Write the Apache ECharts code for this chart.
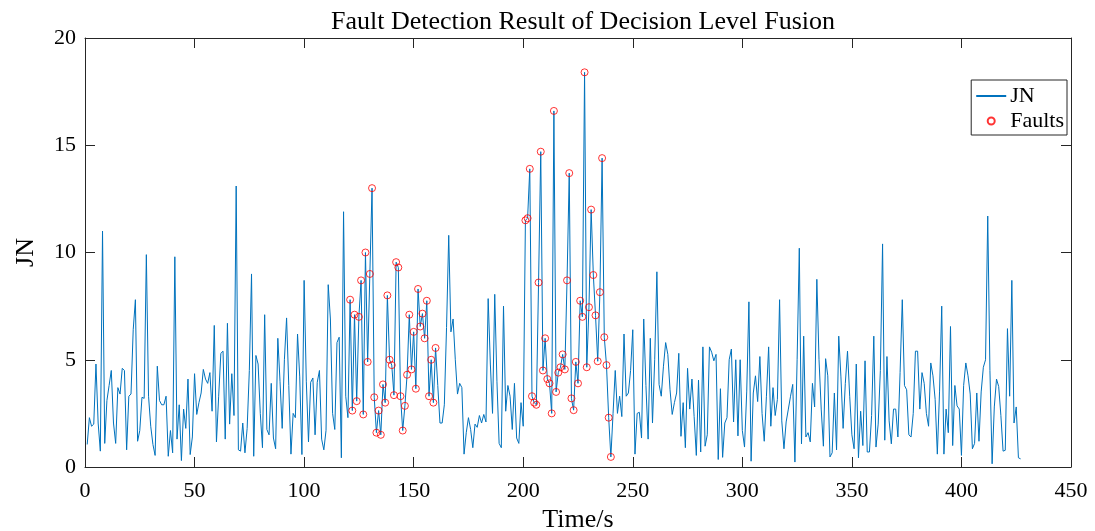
<!DOCTYPE html>
<html>
<head>
<meta charset="utf-8">
<script src="https://cdn.jsdelivr.net/npm/echarts@6/dist/echarts.min.js"></script>
<style>
  html, body { margin: 0; padding: 0; background: #fff; }
  #chart { width: 1095px; height: 531px; }
</style>
</head>
<body>
<div id="chart"></div>
<script>
// JN statistic sampled once per second, t = 1 .. 427
const jnValues = [
  1.05, 2.3, 1.9, 2.0, 4.8, 2.05, 0.74, 11.0, 1.1, 3.1,
  3.8, 4.5, 2.05, 1.1, 3.7, 3.4, 4.6, 4.5, 0.8, 3.3,
  3.4, 6.4, 7.8, 1.2, 1.7, 3.25, 3.2, 9.9, 3.3, 1.9,
  1.05, 0.54, 4.7, 3.1, 2.9, 2.9, 3.3, 0.5, 1.7, 0.66,
  9.8, 1.3, 2.9, 0.3, 2.7, 1.8, 4.1, 0.58, 1.4, 4.35,
  2.45, 3.0, 3.45, 4.55, 4.1, 3.9, 4.4, 2.6, 6.6, 1.17,
  3.3, 5.3, 5.4, 1.3, 6.7, 2.0, 4.35, 2.4, 13.1, 0.8,
  0.74, 2.05, 0.66, 1.8, 4.5, 9.0, 0.5, 5.2, 4.8, 2.5,
  0.9, 7.1, 1.75, 1.5, 3.9, 1.35, 0.85, 6.0, 4.0, 1.8,
  5.0, 6.95, 3.8, 0.6, 2.5, 2.3, 6.2, 4.2, 0.58, 8.7,
  4.0, 1.17, 3.95, 4.15, 1.5, 3.95, 4.5, 1.3, 0.8, 1.7,
  8.5, 6.9, 2.5, 1.75, 5.8, 6.05, 0.43, 11.9, 3.3, 2.3,
  7.8, 2.63, 7.1, 3.07, 7.0, 8.7, 2.45, 10.0, 4.9, 9.0,
  13.0, 3.25, 1.6, 2.63, 1.5, 3.85, 3.0, 8.0, 5.0, 4.75,
  3.35, 9.55, 9.3, 3.3, 1.7, 2.85, 4.3, 7.1, 4.55, 6.3,
  3.65, 8.3, 6.55, 7.15, 6.0, 7.75, 3.3, 5.0, 3.0, 5.55,
  3.8, 2.05, 2.05, 2.9, 6.5, 10.8, 6.3, 6.9, 5.0, 3.4,
  3.9, 3.7, 0.6, 1.6, 2.3, 1.75, 0.9, 2.0, 1.85, 2.4,
  2.05, 2.45, 2.1, 7.85, 4.8, 2.5, 8.05, 4.0, 1.1, 0.9,
  7.5, 2.6, 3.8, 3.3, 1.75, 3.9, 1.35, 1.1, 3.0, 1.9,
  11.5, 11.6, 13.9, 3.3, 3.0, 2.9, 8.6, 14.7, 4.5, 6.0,
  4.1, 3.9, 2.5, 16.6, 3.5, 4.4, 4.65, 5.25, 4.55, 8.7,
  13.7, 3.2, 2.65, 4.9, 3.9, 7.75, 7.0, 18.4, 4.65, 7.45,
  12.0, 8.95, 7.07, 4.93, 8.15, 14.4, 6.05, 4.75, 2.3, 0.47,
  2.5, 4.5, 2.5, 3.3, 2.35, 6.2, 3.3, 3.45, 4.5, 6.4,
  0.6, 2.5, 2.55, 1.35, 6.9, 3.8, 1.3, 6.0, 2.05, 5.0,
  9.1, 3.85, 3.3, 4.7, 5.8, 5.25, 3.6, 2.45, 3.0, 3.45,
  5.3, 1.43, 3.0, 0.9, 4.6, 2.7, 4.1, 2.35, 0.54, 4.05,
  0.7, 5.6, 0.97, 1.5, 5.6, 5.35, 4.95, 5.25, 0.35, 3.65,
  0.45, 2.05, 2.3, 5.0, 5.5, 2.1, 5.0, 1.45, 5.0, 1.7,
  0.93, 3.5, 7.7, 0.27, 3.45, 4.25, 3.05, 5.15, 2.5, 1.2,
  3.3, 5.6, 1.9, 3.7, 2.4, 3.15, 7.8, 2.15, 0.85, 2.1,
  2.7, 3.3, 3.85, 0.23, 5.0, 10.2, 1.08, 6.1, 1.4, 1.6,
  1.17, 3.9, 2.8, 8.75, 5.0, 2.7, 0.97, 5.05, 4.25, 0.47,
  0.66, 3.45, 0.8, 6.1, 4.2, 1.8, 3.9, 5.4, 3.3, 1.5,
  0.85, 4.8, 0.43, 2.6, 1.0, 4.95, 0.7, 0.7, 2.4, 6.1,
  0.93, 2.0, 4.5, 10.4, 1.25, 5.15, 2.15, 1.08, 2.7, 2.7,
  1.4, 4.4, 7.8, 3.8, 3.6, 1.5, 1.4, 2.5, 5.4, 5.4,
  2.7, 4.4, 3.9, 2.5, 1.9, 4.85, 4.25, 3.15, 0.6, 3.5,
  7.5, 0.6, 2.7, 1.6, 6.55, 1.0, 3.8, 2.85, 2.7, 0.54,
  3.8, 4.85, 4.25, 3.4, 0.85, 1.1, 3.45, 1.2, 3.5, 4.65,
  5.0, 11.7, 4.5, 0.15, 2.8, 4.1, 3.75, 2.4, 0.74, 0.78,
  6.45, 3.3, 8.7, 2.05, 2.8, 0.43, 0.38
];

// Time windows (inclusive, in seconds) flagged as faults
const faultWindows = [[121, 160], [201, 240]];

// Axis tick settings
const xTicks = { min: 0, max: 450, interval: 50 };
const yTicks = { min: 0, max: 20, interval: 5 };

const jnSeries = jnValues.map((v, i) => [i + 1, v]);
const faultSeries = jnSeries.filter(([t]) =>
  faultWindows.some(([a, b]) => t >= a && t <= b));

const serif = '"Liberation Serif", "DejaVu Serif", serif';
const axisColor = '#262626';

function axisBase(extra) {
  return Object.assign({
    type: 'value',
    splitLine: { show: false },
    axisLine: { show: true, onZero: false, lineStyle: { color: axisColor, width: 1 } },
    axisTick: { show: true, inside: true, length: 10, lineStyle: { color: axisColor, width: 1 } },
    axisLabel: { color: '#000', fontFamily: serif, fontSize: 22 }
  }, extra);
}

const chart = echarts.init(document.getElementById('chart'), null, { renderer: 'canvas' });
chart.setOption({
  animation: false,
  backgroundColor: '#fff',
  title: {
    text: 'Fault Detection Result of Decision Level Fusion',
    left: 578, top: 4, textAlign: 'center',
    textStyle: { fontFamily: serif, fontSize: 26, fontWeight: 'normal', color: '#000' }
  },
  grid: {
    left: 85, right: 24, top: 38, bottom: 64,
    containLabel: false,
    outerBoundsMode: 'none'
  },
  legend: {
    right: 28, top: 80,
    orient: 'vertical',
    itemWidth: 30, itemHeight: 7, itemGap: 3,
    padding: [5, 3, 3, 4],
    borderColor: axisColor, borderWidth: 1,
    backgroundColor: '#fff',
    textStyle: { fontFamily: serif, fontSize: 22, color: '#000', padding: [0, 0, 0, -1] },
    data: [
      { name: 'JN', itemStyle: { opacity: 0 } },
      { name: 'Faults' }
    ]
  },
  xAxis: [
    axisBase(Object.assign({
      position: 'bottom',
      name: 'Time/s', nameLocation: 'middle', nameGap: 40,
      nameTextStyle: { fontFamily: serif, fontSize: 26, color: '#000' },
      axisLabel: { color: '#000', fontFamily: serif, fontSize: 22, margin: 13 }
    }, xTicks)),
    axisBase(Object.assign({ position: 'top', axisLabel: { show: false } }, xTicks))
  ],
  yAxis: [
    axisBase(Object.assign({
      position: 'left',
      name: 'JN', nameLocation: 'middle', nameGap: 46,
      nameTextStyle: { fontFamily: serif, fontSize: 26, color: '#000' },
      axisLabel: { color: '#000', fontFamily: serif, fontSize: 22, margin: 9 }
    }, yTicks)),
    axisBase(Object.assign({ position: 'right', axisLabel: { show: false } }, yTicks))
  ],
  series: [
    {
      name: 'JN',
      type: 'line',
      xAxisIndex: 0, yAxisIndex: 0,
      data: jnSeries,
      symbol: 'none',
      lineStyle: { color: '#0072BD', width: 1 },
      itemStyle: { color: '#0072BD' },
      z: 2
    },
    {
      name: 'Faults',
      type: 'scatter',
      xAxisIndex: 0, yAxisIndex: 0,
      data: faultSeries,
      symbol: 'circle',
      symbolSize: 7,
      itemStyle: { color: 'rgba(255,255,255,0)', borderColor: '#ff0000', borderWidth: 1 },
      z: 3
    }
  ]
});
</script>
</body>
</html>
